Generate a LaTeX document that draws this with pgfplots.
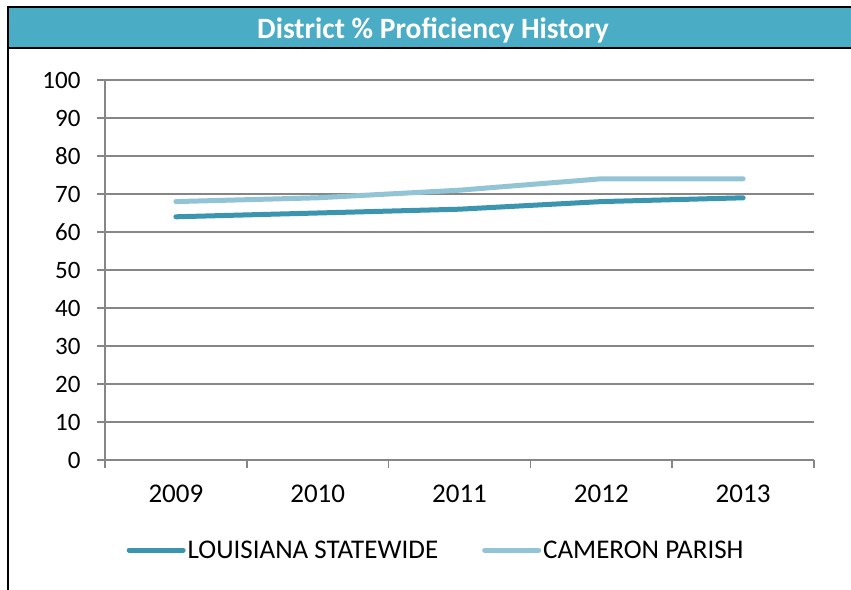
\documentclass[border=0pt]{standalone}
\usepackage{fontspec}
\setmainfont{Carlito}
\usepackage{pgfplots}
\pgfplotsset{compat=1.18}
\definecolor{titlebar}{HTML}{4BACC6}
\definecolor{statec}{HTML}{3B95AE}
\definecolor{parishc}{HTML}{93C4D6}
\definecolor{gridc}{HTML}{868686}
\begin{document}
\begin{tikzpicture}
\useasboundingbox (0,0) rectangle (851bp,590bp);
\fill[white] (0,0) rectangle (851bp,590bp);
\fill[titlebar] (9bp,542bp) rectangle (851bp,582bp);
\draw[black,line width=2bp] (8bp,0) -- (8bp,583bp) -- (851bp,583bp);
\draw[black,line width=1.5bp] (8bp,542bp) -- (851bp,542bp);
\node[font=\bfseries\fontsize{29.5bp}{34bp}\selectfont,text=white] at (433bp,560bp) {District \% Proficiency History};
\begin{axis}[
  at={(105bp,130bp)}, anchor=south west,
  scale only axis, width=709bp, height=380bp,
  xmin=-0.5, xmax=4.5, ymin=0, ymax=100,
  ytick={0,10,...,100},
  xtick={0,1,2,3,4},
  xticklabels={2009,2010,2011,2012,2013},
  minor xtick={-0.5,0.5,1.5,2.5,3.5,4.5},
  axis x line*=bottom, axis y line*=left,
  axis line style={-,draw=gridc,line width=1.5bp},
  tick align=outside,
  major tick length=8bp, minor tick length=8bp,
  x tick style={draw=none},
  minor x tick style={draw=gridc,line width=1.5bp},
  y tick style={draw=gridc,line width=1.5bp},
  ymajorgrids,
  major grid style={draw=gridc,line width=1.5bp},
  /pgf/number format/assume math mode=true,
  yticklabel style={font=\fontsize{25bp}{30bp}\selectfont, xshift=-13bp},
  xticklabel style={font=\fontsize{27bp}{32bp}\selectfont, yshift=-13bp},
  legend columns=2,
  legend style={at={(0.467,-0.237)}, anchor=center, draw=none, fill=none,
    font=\fontsize{27bp}{32bp}\selectfont,
    /tikz/every even column/.append style={column sep=42bp},
    nodes={inner sep=2bp}},
  legend image code/.code={\draw[#1,line width=5bp,line cap=round] (0bp,0bp) -- (54bp,0bp);},
]
\addplot[statec, line width=5bp, line cap=round, line join=round] coordinates {(0,64) (1,65) (2,66) (3,68) (4,69)};
\addlegendentry{LOUISIANA STATEWIDE}
\addplot[parishc, line width=5bp, line cap=round, line join=round] coordinates {(0,68) (1,69) (2,71) (3,74) (4,74)};
\addlegendentry{CAMERON PARISH}
\end{axis}
\end{tikzpicture}
\end{document}
